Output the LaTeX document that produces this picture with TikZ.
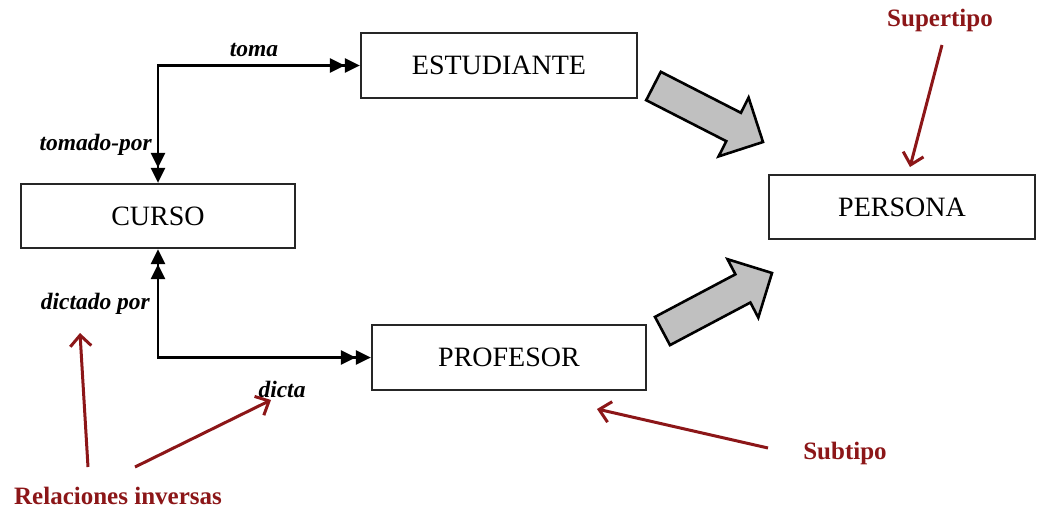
\documentclass[tikz,border=0pt]{standalone}
\usepackage{fontspec}
\setmainfont{Liberation Serif}
\usetikzlibrary{arrows.meta}
\definecolor{notered}{RGB}{140,22,24}
\definecolor{blockgray}{RGB}{192,192,192}
\tikzset{
  entity/.style={draw=black!85, line width=2.2pt, inner sep=0pt,
    font=\fontsize{28}{32}\selectfont},
  rolelabel/.style={font=\bfseries\itshape\fontsize{23.5}{26}\selectfont, inner sep=1pt},
  notelabel/.style={font=\bfseries\fontsize{25}{28}\selectfont, text=notered, inner sep=1pt},
  dbltip/.tip={Triangle[length=15pt,width=14pt] Triangle[length=15pt,width=14pt]},
  relation/.style={line width=2.6pt, dbltip-dbltip},
  pointer/.style={draw=notered, line width=3pt,
    -{Straight Barb[length=11pt,width=21pt,line width=3pt]}},
  isa/.style={draw=black, line width=2.6pt, fill=blockgray, line join=miter},
}
\begin{document}
\begin{tikzpicture}[x=1pt,y=-1pt]
\useasboundingbox[fill=white] (0,0) rectangle (1037,512);

% entity boxes
\node[entity, minimum width=276pt, minimum height=65pt] (est)  at (499,65.5)  {ESTUDIANTE};
\node[entity, minimum width=274pt, minimum height=64pt] (curso) at (158,216)  {CURSO};
\node[entity, minimum width=266pt, minimum height=64pt] (pers)  at (902,207)  {PERSONA};
\node[entity, minimum width=274pt, minimum height=65pt] (prof)  at (509,357.5){PROFESOR};

% inverse relationships
\draw[relation] (curso.north) |- (est.west);
\draw[relation] (curso.south) |- (prof.west);

\node[rolelabel] (toma)    at (254,50) {toma};
\node[rolelabel, anchor=east] (tomado) at (153,145) {tomado-por};
\node[rolelabel, anchor=east] (dictado) at (151,304) {dictado por};
\node[rolelabel] (dicta)   at (282,389) {dicta};

% generalisation arrows (subtype -> supertype)
\path[isa] (646.2,100.2) -- (660.8,71.8) -- (740.9,112.8) -- (748.6,97.6)
  -- (763,142) -- (718.6,156.4) -- (726.3,141.2) -- cycle;
\path[isa] (670,345.1) -- (655,316.9) -- (735.4,274.3) -- (727.5,259.2)
  -- (772,273) -- (758.3,317.6) -- (750.4,302.5) -- cycle;

% annotations
\node[notelabel] (rel) at (118,496) {Relaciones inversas};
\node[notelabel] (sup) at (940,20) {Supertipo};
\node[notelabel] (sub) at (845,453) {Subtipo};

\coordinate (relA) at (88,467);
\coordinate (relB) at (135,467);
\coordinate (relAend) at (80,333);
\coordinate (relBend) at (271,400);
\coordinate (supA) at (942,45);
\coordinate (supEnd) at (910,167);
\coordinate (subA) at (768,448);
\coordinate (subEnd) at (597,409);

\draw[pointer] (relA) -- (relAend);
\draw[pointer] (relB) -- (relBend);
\draw[pointer] (supA) -- (supEnd);
\draw[pointer] (subA) -- (subEnd);
\end{tikzpicture}
\end{document}
